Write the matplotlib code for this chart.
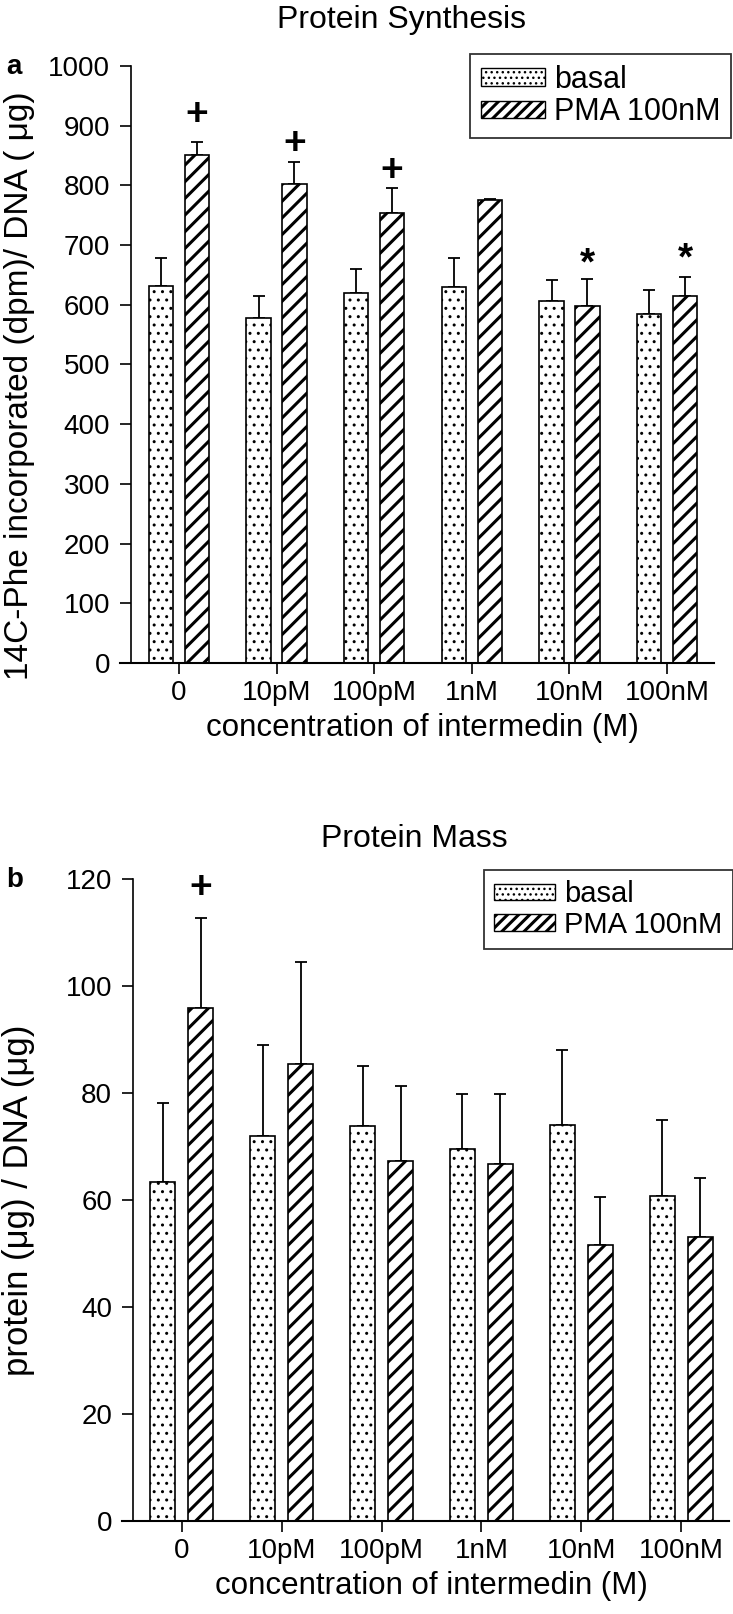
import numpy as np
import matplotlib
matplotlib.use("Agg")
import matplotlib.pyplot as plt
from matplotlib.patches import Patch

plt.rcParams['font.family'] = ['Liberation Sans', 'DejaVu Sans']

# categories
conc = ["0", "10pM", "100pM", "1nM", "10nM", "100nM"]

# panel a: protein synthesis
syn_basal = [631, 578, 619, 630, 607, 584]
syn_basal_err = [47, 36, 41, 48, 35, 41]
syn_pma = [851, 803, 754, 775, 598, 615]
syn_pma_err = [22, 37, 42, 2, 45, 32]
syn_marks = ["+", "+", "+", "", "*", "*"]
syn_mark_y = [918, 870, 824, 0, 668, 676]

# panel b: protein mass
mass_basal = [63.4, 72.0, 73.9, 69.5, 74.1, 60.7]
mass_basal_err = [14.7, 17.0, 11.2, 10.3, 13.9, 14.3]
mass_pma = [95.8, 85.4, 67.2, 66.7, 51.5, 53.0]
mass_pma_err = [17.0, 19.0, 14.2, 13.1, 9.0, 11.1]
mass_marks = ["+", "", "", "", "", ""]
mass_mark_y = [118.3, 0, 0, 0, 0, 0]

W, H = 733, 1614
fig = plt.figure(figsize=(W / 100, H / 100), dpi=100)


def box(x0, y0, x1, y1):
    return [x0 / W, 1 - y1 / H, (x1 - x0) / W, (y1 - y0) / H]


def hatched_bars(ax, x, vals, w, hatch, hlw):
    with plt.rc_context({"hatch.linewidth": hlw}):
        bars = ax.bar(x, vals, w, color="white", edgecolor="black",
                      hatch=hatch, linewidth=1.2, zorder=2)
    for b in bars:
        if hasattr(b, "set_hatch_linewidth"):
            b.set_hatch_linewidth(hlw)
    return bars


def panel(rect, basal, basal_err, pma, pma_err, marks, mark_y,
          ymax, ystep, ylabel, ylabel_fs, title, title_x, letter, title_y, letter_y,
          legend_xy, legend_fs, off, ylab_xy):
    ax = fig.add_axes(rect)
    x = np.arange(len(conc))
    w = 0.25
    hatched_bars(ax, x - off, basal, w, "..", 1.0)
    hatched_bars(ax, x + off, pma, w, "//", 2.2)
    ax.errorbar(x - off, basal, yerr=[np.zeros(len(x)), basal_err], fmt="none",
                ecolor="black", elinewidth=1.3, capsize=4.5, capthick=1.3, zorder=1)
    ax.errorbar(x + off, pma, yerr=[np.zeros(len(x)), pma_err], fmt="none",
                ecolor="black", elinewidth=1.3, capsize=4.5, capthick=1.3, zorder=1)
    for xi, m, my in zip(x, marks, mark_y):
        if m:
            ax.text(xi + off, my, m, ha="center", va="center",
                    fontsize=28, fontweight="bold")

    ax.set_xlim(-0.49, 5.48)
    ax.set_ylim(0, ymax)
    ax.set_yticks(np.arange(0, ymax + 1, ystep))
    ax.set_xticks(x)
    ax.set_xticklabels(conc)
    ax.spines["top"].set_visible(False)
    ax.spines["right"].set_visible(False)
    ax.spines["left"].set_linewidth(1.2)
    ax.spines["bottom"].set_linewidth(1.5)
    ax.spines["bottom"].set_bounds(-0.6, 5.48)
    ax.tick_params(direction="out", length=8, width=1.2, labelsize=20, pad=7)
    ax.tick_params(axis="x", pad=4)
    ax.set_ylabel(ylabel, fontsize=ylabel_fs)
    ax.yaxis.set_label_coords(*ylab_xy)
    ax.set_xlabel("concentration of intermedin (M)", fontsize=22.5, labelpad=5)

    fig.text(title_x, 1 - title_y / H, title, ha="center", va="center", fontsize=23)
    fig.text(6 / W, 1 - letter_y / H, letter, ha="left", va="center",
             fontsize=20, fontweight="bold")

    handles = [Patch(facecolor="white", edgecolor="black", hatch="...", label="basal"),
               Patch(facecolor="white", edgecolor="black", hatch="///", label="PMA 100nM")]
    leg = fig.legend(handles=handles, loc="upper left",
                     bbox_to_anchor=(legend_xy[0] / W, 1 - legend_xy[1] / H),
                     fontsize=legend_fs, frameon=True, fancybox=False, borderaxespad=0,
                     handlelength=2.1, handleheight=0.5, handletextpad=0.3,
                     labelspacing=0.08, borderpad=0.35)
    leg.get_frame().set_edgecolor("black")
    leg.get_frame().set_linewidth(1.3)
    for h, lw in zip(leg.legend_handles, [1.0, 2.2]):
        if hasattr(h, "set_hatch_linewidth"):
            h.set_hatch_linewidth(lw)
    return ax


panel(box(131, 66, 714, 663), syn_basal, syn_basal_err, syn_pma, syn_pma_err,
      syn_marks, syn_mark_y, 1000, 100,
      "14C-Phe incorporated (dpm)/ DNA ( μg)", 24, "Protein Synthesis", 0.548, "a",
      20, 67, (470, 54), 22, 0.184, (-0.165, 0.465))

panel(box(133, 879, 729, 1521), mass_basal, mass_basal_err, mass_pma, mass_pma_err,
      mass_marks, mass_mark_y, 120, 20,
      "protein (μg) / DNA (μg)", 25, "Protein Mass", 0.565, "b",
      839, 880, (484, 870), 21, 0.19, (-0.164, 0.5))

plt.savefig("out.png", dpi=100)
